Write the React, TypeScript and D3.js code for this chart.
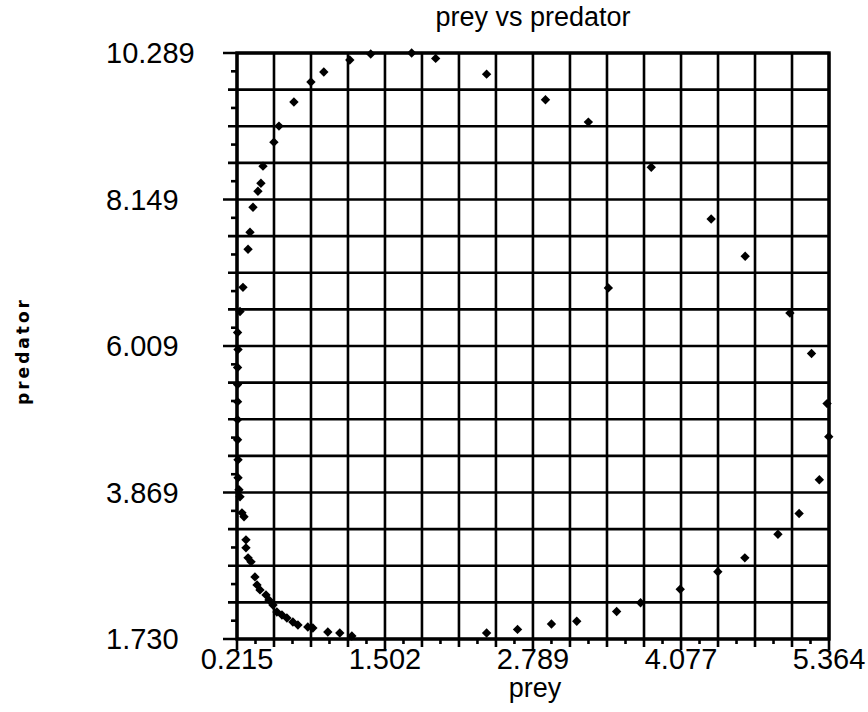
import React from 'react'
import * as d3 from 'd3'

const xTickLabels = ['0.215', '1.502', '2.789', '4.077', '5.364']
const yTickLabels = ['1.730', '3.869', '6.009', '8.149', '10.289']

const prey = [
  0.241, 0.258, 0.276, 0.293, 0.293, 0.311, 0.337, 0.371, 0.389, 0.415, 0.467, 0.493,
  0.528, 0.562, 0.606, 0.649, 0.701, 0.745, 0.831, 0.875, 1.005, 1.109, 1.214,
  2.386, 2.655, 2.95, 3.17, 3.517, 3.725, 4.07, 4.397, 4.632, 4.92, 5.104, 5.28,
  5.362, 5.347, 5.212, 5.024, 4.635, 4.339, 3.818, 3.271, 2.898, 2.386, 1.943,
  1.734, 1.378, 1.196, 0.97, 0.858, 0.71, 0.58, 0.536, 0.441, 0.423, 0.397, 0.354,
  0.328, 0.311, 0.267, 0.241, 0.22, 0.224, 0.22, 0.22, 0.22, 0.22, 0.22, 0.224,
  0.224, 0.232, 3.445,
]
const predator = [
  3.808, 3.573, 3.515, 3.178, 3.061, 2.915, 2.857, 2.637, 2.52, 2.447, 2.374, 2.301,
  2.227, 2.125, 2.081, 2.037, 1.979, 1.935, 1.906, 1.891, 1.832, 1.818, 1.774,
  1.818, 1.87, 1.95, 1.99, 2.131, 2.26, 2.457, 2.713, 2.915, 3.259, 3.563, 4.056,
  4.685, 5.168, 5.9, 6.49, 7.32, 7.865, 8.62, 9.28, 9.606, 9.98, 10.21,
  10.289, 10.274, 10.187, 10.011, 9.865, 9.573, 9.221, 8.987, 8.636, 8.387, 8.27, 8.036,
  7.67, 7.422, 6.866, 6.514, 6.207, 5.958, 5.695, 5.446, 5.197, 4.934, 4.641, 4.349,
  4.086, 3.91, 6.858,
]

const W = 868
const H = 712
const margin = { left: 237, right: 39, top: 53, bottom: 73 }
const font = '"Liberation Sans", Arial, Helvetica, sans-serif'

// 4 grid steps between each pair of labelled ticks, and a minor tick halfway
function subdivide(labels: string[], parts: number) {
  const v = labels.map(Number)
  const out: number[] = []
  for (let i = 0; i < v.length - 1; i++) {
    for (let j = 0; j < parts; j++) out.push(v[i] + ((v[i + 1] - v[i]) * j) / parts)
  }
  out.push(v[v.length - 1])
  return out
}

export default function App() {
  const xs = xTickLabels.map(Number)
  const ys = yTickLabels.map(Number)
  const x = d3.scaleLinear().domain([xs[0], xs[xs.length - 1]]).range([margin.left, W - margin.right])
  const y = d3.scaleLinear().domain([ys[0], ys[ys.length - 1]]).range([H - margin.bottom, margin.top])

  const xGrid = subdivide(xTickLabels, 4)
  const yGrid = subdivide(yTickLabels, 4)
  const xMinor = subdivide(xTickLabels, 8).filter((_, i) => i % 2 === 1)
  const yMinor = subdivide(yTickLabels, 8).filter((_, i) => i % 2 === 1)

  const [x0, x1] = x.range()
  const [y0, y1] = y.range()
  const marker = d3.symbol().type(d3.symbolSquare).size(44)()

  return (
    <svg width={W} height={H} style={{ position: 'absolute', left: 0, top: 0, background: '#fff' }}>
      <text x={(x0 + x1) / 2} y={26} textAnchor="middle" fontFamily={font} fontSize={27}>
        prey vs predator
      </text>

      {yGrid.map((v, i) => (
        <line key={'gy' + i} x1={i % 4 === 0 ? x0 - 14 : x0 - 9} x2={x1} y1={y(v)} y2={y(v)}
          stroke="#000" strokeWidth={2.6} />
      ))}
      {xGrid.map((v, i) => (
        <line key={'gx' + i} x1={x(v)} x2={x(v)} y1={y1} y2={i % 4 === 0 ? y0 + 11 : y0 + 8}
          stroke="#000" strokeWidth={2.6} />
      ))}
      {yMinor.map((v, i) => (
        <line key={'my' + i} x1={x0 - 6} x2={x0} y1={y(v)} y2={y(v)} stroke="#000" strokeWidth={2.6} />
      ))}
      {xMinor.map((v, i) => (
        <line key={'mx' + i} x1={x(v)} x2={x(v)} y1={y0} y2={y0 + 5} stroke="#000" strokeWidth={2.6} />
      ))}
      <rect x={x0} y={y1} width={x1 - x0} height={y0 - y1} fill="none" stroke="#000" strokeWidth={3.4} />

      {prey.map((p, i) => (
        <path key={'pt' + i} d={marker} transform={`translate(${x(p)},${y(predator[i])}) rotate(45)`} fill="#000" />
      ))}

      {yTickLabels.map((t, i) => (
        <text key={'yl' + i} x={106} y={y(ys[i]) + 10} fontFamily={font} fontSize={29}>
          {t}
        </text>
      ))}
      {xTickLabels.map((t, i) => (
        <text key={'xl' + i} x={x(xs[i])} y={669} textAnchor="middle" fontFamily={font} fontSize={29}>
          {t}
        </text>
      ))}
      <text x={(x0 + x1) / 2 + 2} y={697} textAnchor="middle" fontFamily={font} fontSize={27}>
        prey
      </text>
      <text transform="translate(29,351) rotate(-90)" textAnchor="middle" fontFamily='"DejaVu Sans", sans-serif'
        fontWeight="bold" fontSize={17} letterSpacing={3}>
        predator
      </text>
    </svg>
  )
}
